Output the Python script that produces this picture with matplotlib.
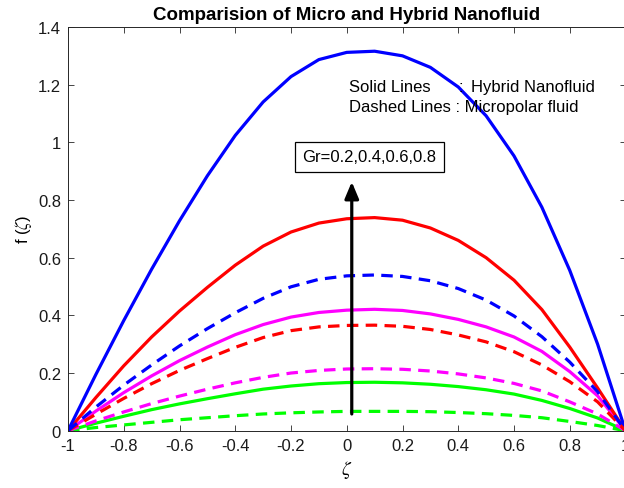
import matplotlib
matplotlib.use("Agg")
import matplotlib.pyplot as plt

# sample positions across the channel
zeta = [-1.0, -0.9, -0.8, -0.7, -0.6, -0.5, -0.4, -0.3, -0.2, -0.1, 0.0,
        0.1, 0.2, 0.3, 0.4, 0.5, 0.6, 0.7, 0.8, 0.9, 1.0]

# hybrid nanofluid profiles (solid), Gr = 0.2, 0.4, 0.6, 0.8
hybrid_gr02 = [0, 0.026, 0.050, 0.073, 0.093, 0.111, 0.128, 0.144, 0.155, 0.163, 0.167,
               0.168, 0.166, 0.161, 0.153, 0.142, 0.127, 0.105, 0.077, 0.044, 0]
hybrid_gr04 = [0, 0.068, 0.132, 0.190, 0.243, 0.290, 0.333, 0.368, 0.394, 0.410, 0.418,
               0.421, 0.417, 0.405, 0.386, 0.360, 0.325, 0.275, 0.205, 0.121, 0]
hybrid_gr06 = [0, 0.115, 0.225, 0.325, 0.415, 0.497, 0.574, 0.640, 0.689, 0.720, 0.735,
               0.739, 0.730, 0.703, 0.660, 0.600, 0.522, 0.420, 0.290, 0.148, 0]
hybrid_gr08 = [0, 0.195, 0.382, 0.560, 0.728, 0.884, 1.024, 1.140, 1.228, 1.287, 1.312,
               1.316, 1.300, 1.260, 1.192, 1.092, 0.953, 0.775, 0.556, 0.300, 0]

# micropolar fluid profiles (dashed), Gr = 0.2, 0.4, 0.6, 0.8
micro_gr02 = [0, 0.011, 0.020, 0.029, 0.038, 0.045, 0.052, 0.058, 0.062, 0.065, 0.067,
              0.067, 0.067, 0.066, 0.063, 0.059, 0.053, 0.045, 0.032, 0.018, 0]
micro_gr04 = [0, 0.034, 0.065, 0.094, 0.120, 0.144, 0.166, 0.185, 0.200, 0.209, 0.214,
              0.215, 0.213, 0.207, 0.197, 0.183, 0.164, 0.138, 0.100, 0.058, 0]
micro_gr06 = [0, 0.057, 0.112, 0.163, 0.209, 0.250, 0.289, 0.323, 0.347, 0.360, 0.365,
              0.366, 0.362, 0.351, 0.332, 0.308, 0.274, 0.228, 0.170, 0.100, 0]
micro_gr08 = [0, 0.082, 0.158, 0.228, 0.294, 0.354, 0.409, 0.459, 0.499, 0.525, 0.537,
              0.540, 0.535, 0.520, 0.493, 0.453, 0.398, 0.326, 0.238, 0.135, 0]

colors = ["#00ff00", "#ff00ff", "#ff0000", "#0000ff"]

xticks = [-1, -0.8, -0.6, -0.4, -0.2, 0, 0.2, 0.4, 0.6, 0.8, 1]
xtick_labels = ["-1", "-0.8", "-0.6", "-0.4", "-0.2", "0", "0.2", "0.4", "0.6", "0.8", "1"]
yticks = [0, 0.2, 0.4, 0.6, 0.8, 1, 1.2, 1.4]
ytick_labels = ["0", "0.2", "0.4", "0.6", "0.8", "1", "1.2", "1.4"]

plt.rcParams["font.family"] = ["Liberation Sans", "DejaVu Sans"]
plt.rcParams["mathtext.fontset"] = "stix"
plt.rcParams["axes.unicode_minus"] = False

fig = plt.figure(figsize=(6.24, 4.89), dpi=100)
ax = fig.add_axes([68 / 624, 57.3 / 489, 557.5 / 624, 403.7 / 489])

dash = (0, (3.6, 2.3))
for ys, c in zip([hybrid_gr02, hybrid_gr04, hybrid_gr06, hybrid_gr08], colors):
    ax.plot(zeta, ys, color=c, lw=2.3, solid_joinstyle="round")
for ys, c in zip([micro_gr02, micro_gr04, micro_gr06, micro_gr08], colors):
    ax.plot(zeta, ys, color=c, lw=2.3, linestyle=dash)

ax.set_xlim(-1, 1)
ax.set_ylim(0, 1.4)
ax.set_xticks(xticks)
ax.set_xticklabels(xtick_labels)
ax.set_yticks(yticks)
ax.set_yticklabels(ytick_labels)
ax.tick_params(direction="in", top=True, right=True, length=4, width=0.6,
               labelsize=12, pad=5, color="0.15", labelcolor="0.1")
for s in ax.spines.values():
    s.set_color("0.15")
    s.set_linewidth(0.7)

ax.set_title("Comparision of Micro and Hybrid Nanofluid", fontsize=13.5,
             fontweight="bold", pad=6)
ax.set_xlabel(r"$\zeta$", fontsize=14, labelpad=4)
ax.set_ylabel(r"f ($\zeta$)", fontsize=12, labelpad=3)

# Gr increases upward
ax.annotate("", xy=(0.018, 0.863), xytext=(0.018, 0.058),
            arrowprops=dict(arrowstyle="-|>,head_length=1.0,head_width=0.42",
                            lw=2.3, color="k", shrinkA=0, shrinkB=0),
            zorder=5)
ax.text(0.081, 0.95, "Gr=0.2,0.4,0.6,0.8", fontsize=12, ha="center", va="center",
        bbox=dict(boxstyle="square,pad=0.45", fc="white", ec="k", lw=0.9), zorder=6)

ax.text(0.008, 1.195, "Solid Lines", fontsize=12, va="center", zorder=6)
ax.text(0.401, 1.195, ":", fontsize=12, va="center", zorder=6)
ax.text(0.447, 1.195, "Hybrid Nanofluid", fontsize=12, va="center", zorder=6)
ax.text(0.008, 1.125, "Dashed Lines : Micropolar fluid", fontsize=12, va="center", zorder=6)

fig.savefig("out.png", dpi=100)
